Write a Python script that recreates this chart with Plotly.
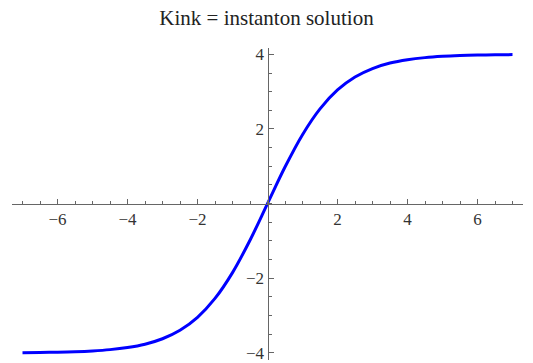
import plotly.graph_objects as go

# Kink profile sampled along x
x_vals = [-7, -6.5, -6, -5.5, -5, -4.5, -4, -3.5, -3, -2.5, -2, -1.5, -1, -0.5,
          0, 0.5, 1, 1.5, 2, 2.5, 3, 3.5, 4, 4.5, 5, 5.5, 6, 6.5, 7]
y_vals = [-3.993, -3.988, -3.980, -3.967, -3.946, -3.912, -3.856, -3.766, -3.620,
          -3.393, -3.046, -2.540, -1.848, -0.980,
          0.0, 0.980, 1.848, 2.540, 3.046, 3.393, 3.620, 3.766, 3.856, 3.912,
          3.946, 3.967, 3.980, 3.988, 3.993]

x_ticks = [-6, -4, -2, 2, 4, 6]
y_ticks = [-4, -2, 2, 4]

x_range = [-7.3, 7.3]
y_range = [-4.19, 4.17]

axis_color = "#666666"
serif = "Liberation Serif, Times New Roman, Times, serif"
font = dict(family=serif, size=17, color="#333333")

fig = go.Figure(go.Scatter(
    x=x_vals, y=y_vals, mode="lines",
    line=dict(color="#0000ff", width=3, shape="spline"),
    hoverinfo="skip",
))

fig.update_layout(
    width=533, height=363,
    margin=dict(l=12, r=10, t=48, b=0),
    paper_bgcolor="white", plot_bgcolor="white",
    showlegend=False,
    title=dict(text="Kink = instanton solution", x=0.5, xanchor="center",
               y=1 - 18 / 363, yanchor="middle",
               font=dict(family=serif, size=21, color="#222222")),
    xaxis=dict(
        range=x_range, anchor="free",
        position=(0 - y_range[0]) / (y_range[1] - y_range[0]),
        showgrid=False, zeroline=False,
        showline=True, linecolor=axis_color, linewidth=1,
        tickvals=x_ticks, ticks="inside", ticklen=5, tickcolor=axis_color,
        tickfont=font, ticklabeloverflow="allow",
        minor=dict(dtick=0.5, tick0=0, ticks="inside", ticklen=3,
                   tickcolor=axis_color, showgrid=False),
    ),
    yaxis=dict(
        range=y_range, anchor="free",
        position=(0 - x_range[0]) / (x_range[1] - x_range[0]),
        showgrid=False, zeroline=False,
        showline=True, linecolor=axis_color, linewidth=1,
        tickvals=y_ticks, ticks="inside", ticklen=5, tickcolor=axis_color,
        tickfont=font, ticklabeloverflow="allow",
        minor=dict(dtick=0.5, tick0=0, ticks="inside", ticklen=3,
                   tickcolor=axis_color, showgrid=False),
    ),
)

fig.write_html("out.html")
